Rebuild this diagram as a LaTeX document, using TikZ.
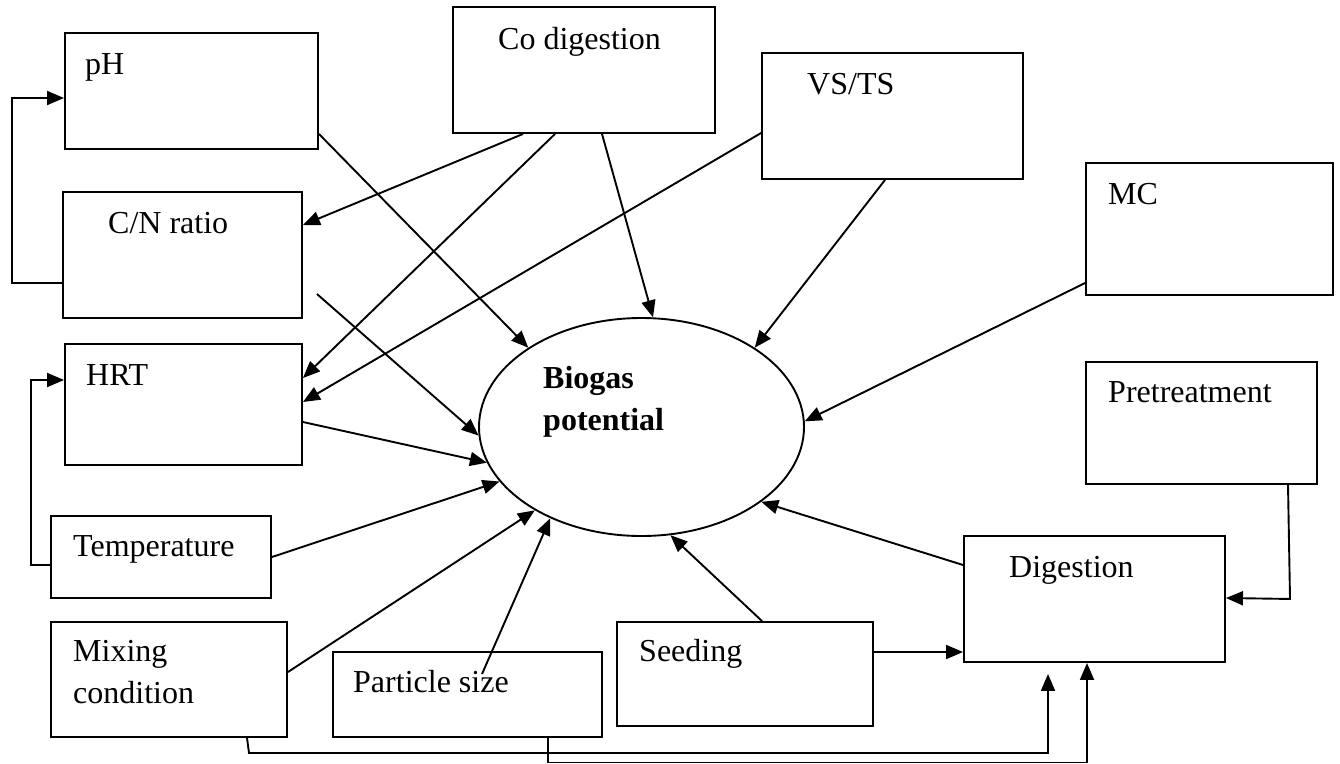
\documentclass[tikz,border=0pt]{standalone}
\usepackage{fontspec}
\setmainfont{Liberation Serif}
\usetikzlibrary{arrows.meta,calc,shapes.geometric}
\tikzset{
  box/.style={draw, line width=1.9pt, rectangle, inner sep=0pt},
  txt/.style={inner sep=0pt, anchor=base west, font=\fontsize{32}{40}\selectfont},
  btxt/.style={txt, font=\fontsize{32}{40}\selectfont\bfseries},
  conn/.style={line width=1.9pt},
  arr/.style={conn, -{Triangle[length=17pt,width=14pt]}},
}
\begin{document}
\begin{tikzpicture}[x=1pt,y=-1pt]
\useasboundingbox (0,0) rectangle (1340,763);
% boxes
\node[box, minimum width=253pt, minimum height=116pt] (ph) at (191.5,91) {};
\node[box, minimum width=239pt, minimum height=126pt] (cn) at (182.5,255) {};
\node[box, minimum width=262pt, minimum height=126pt] (co) at (584,70) {};
\node[box, minimum width=261pt, minimum height=126pt] (vs) at (892.5,116) {};
\node[box, minimum width=247pt, minimum height=132pt] (mc) at (1209.5,229) {};
\node[box, minimum width=237pt, minimum height=121pt] (hrt) at (183.5,404.5) {};
\node[box, minimum width=220pt, minimum height=82pt] (temp) at (161,557) {};
\node[box, minimum width=236pt, minimum height=115pt] (mix) at (169,679.5) {};
\node[box, minimum width=269pt, minimum height=85pt] (ps) at (467.5,694.5) {};
\node[box, minimum width=256pt, minimum height=104pt] (seed) at (745,674) {};
\node[box, minimum width=231pt, minimum height=122pt] (pre) at (1201.5,423) {};
\node[box, minimum width=261pt, minimum height=126pt] (dig) at (1094.5,599) {};
\node[draw, line width=1.9pt, ellipse, minimum width=325pt, minimum height=218pt, inner sep=0pt] (bio) at (641.5,427) {};
% texts
\node[txt] (tph) at (85,74) {pH};
\node[txt] (tcn) at (108,233) {C/N ratio};
\node[txt] (tco) at (498,49) {Co digestion};
\node[txt] (tvs) at (807,94) {VS/TS};
\node[txt] (tmc) at (1108,204) {MC};
\node[txt] (thrt) at (86,385) {HRT};
\node[txt] (ttemp) at (73,556) {Temperature};
\node[txt] (tmix1) at (73,661) {Mixing};
\node[txt] (tmix2) at (73,703) {condition};
\node[txt] (tps) at (353,692) {Particle size};
\node[txt] (tseed) at (639,661) {Seeding};
\node[txt] (tpre) at (1108,402) {Pretreatment};
\node[txt] (tdig) at (1009,577) {Digestion};
\node[btxt] (tbio1) at (543,388) {Biogas};
\node[btxt] (tbio2) at (543,430) {potential};
% connectors to biogas
\draw[arr] ($(ph.south east)+(0,-16)$) -- (bio.145);
\draw[arr] ($(cn.east)+(14,39)$) -- (bio.183.5);
\draw[arr] ($(co.south)+(18,0)$) -- (bio.84.5);
\draw[arr] ($(vs.south)+(-7.5,0)$) -- (bio.35);
\draw[arr] ($(mc.west)+(0,54)$) -- (bio.2.4);
\draw[arr] ($(hrt.east)+(0,17.5)$) -- (bio.193);
\draw[arr] (temp.east) -- (bio.201.3);
\draw[arr] ($(mix.east)+(0,-7.5)$) -- (bio.218.2);
\draw[arr] ($(ps.center)+(14.5,-20.5)$) -- (bio.225.5);
\draw[arr] ($(seed.north)+(17,0)$) -- (bio.285);
\draw[arr] ($(dig.west)+(0,-34)$) -- (bio.328);
% other connectors
\draw[arr] ($(co.south)+(-61,0)$) -- ($(cn.east)+(0,-30)$);
\draw[arr] ($(co.south)+(-29,0)$) -- ($(hrt.east)+(0,-26.5)$);
\draw[arr] ($(vs.west)+(0,17)$) -- ($(hrt.east)+(0,-2.5)$);
\draw[arr] ($(seed.east)+(0,-22)$) -- ($(dig.west)+(0,53)$);
\draw[arr] ($(pre.south)+(86.5,0)$) -- ($(pre.south)+(88.5,114)$) -- ($(dig.east)+(0,-1)$);
\draw[arr] ($(cn.west)+(0,28)$) -- ++(-50,0) |- ($(ph.west)+(0,7)$);
\draw[arr] ($(temp.west)+(0,8)$) -- ++(-19,0) |- ($(hrt.west)+(0,-24.5)$);
\draw[arr] ($(mix.south)+(78,0)$) -- ++(2,15) -| ($(dig.south)+(-46.5,11)$);
\draw[arr] ($(ps.south)+(80.5,0)$) -- ++(0,24.5) -| ($(dig.south)+(-7.5,0)$);
\end{tikzpicture}
\end{document}
